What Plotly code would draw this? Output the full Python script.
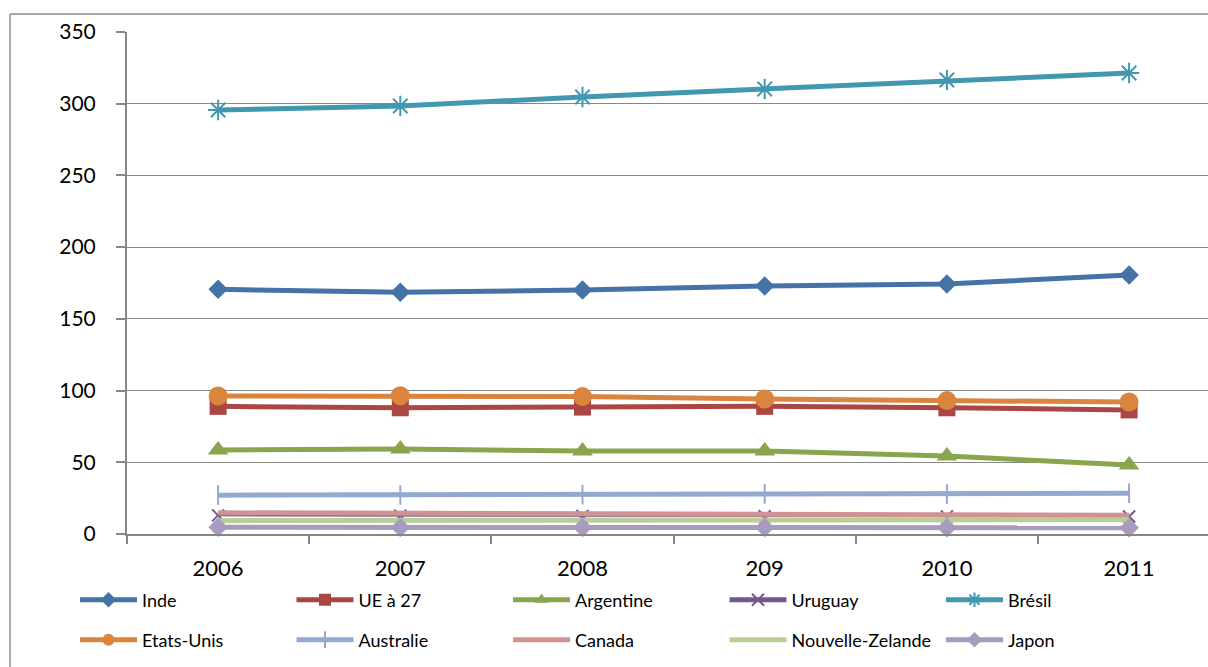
import plotly.graph_objects as go

# Years on the category axis ("209" is the label as printed in the source table)
years = ["2006", "2007", "2008", "209", "2010", "2011"]

inde = [170.6, 168.5, 170.1, 172.9, 174.3, 180.6]
ue27 = [89.0, 88.0, 88.5, 89.0, 88.0, 86.5]
argentine = [58.6, 59.3, 57.9, 57.9, 54.4, 48.1]
uruguay = [13.0, 12.8, 12.6, 12.4, 12.3, 12.2]
bresil = [295.6, 298.4, 304.7, 310.3, 316.5, 321.4]
etats_unis = [96.2, 96.4, 95.8, 94.1, 93.0, 92.0]
australie = [27.1, 27.2, 27.5, 27.9, 27.8, 28.4]
canada = [14.8, 14.5, 14.0, 13.7, 13.4, 13.0]
nouvelle_zelande = [9.3, 9.3, 9.3, 9.4, 9.6, 10.0]
japon = [4.7, 4.6, 4.5, 4.5, 4.4, 4.3]

series = [
    # name, values, colour, marker symbol, marker size, legend group
    ("Inde", inde, "#4572A7", "diamond", 15, "legend"),
    ("UE à 27", ue27, "#AA4643", "square", 17, "legend"),
    ("Argentine", argentine, "#89A54E", "triangle-up", 18, "legend"),
    ("Uruguay", uruguay, "#71588F", "x-thin-open", 12, "legend"),
    ("Brésil", bresil, "#4198AF", "asterisk-open", 17, "legend"),
    ("Etats-Unis", etats_unis, "#DB843D", "circle", 19, "legend2"),
    ("Australie", australie, "#93A9CF", "line-ns-open", 14, "legend2"),
    ("Canada", canada, "#D19392", None, 0, "legend2"),
    ("Nouvelle-Zelande", nouvelle_zelande, "#B9CD96", None, 0, "legend2"),
    ("Japon", japon, "#A99BBD", "diamond", 15, "legend2"),
]

FONT = "Lato"
GRID = "#868686"

fig = go.Figure()
for name, vals, color, symbol, size, leg in series:
    if symbol is None:
        mode = "lines"
        marker = None
    else:
        mode = "lines+markers"
        open_sym = symbol.endswith("-open")
        marker = dict(symbol=symbol, size=size, color=color,
                      line=dict(color=color, width=2 if open_sym else 0))
    fig.add_trace(go.Scatter(
        x=years, y=vals, name=name, mode=mode, legend=leg,
        line=dict(color=color, width=5 if name != "Uruguay" else 2),
        marker=marker, cliponaxis=False,
    ))

W, H = 1208, 667
L, T, B = 127, 32, 133
pw, ph = W - L, H - T - B

def px_x(x):
    return (x - L) / pw

def px_y(y):
    return (H - B - y) / ph

legend_common = dict(
    orientation="h", xref="container", yref="container",
    xanchor="left", yanchor="middle",
    font=dict(family=FONT, size=18, color="black"),
    itemwidth=57, entrywidth=144.5, entrywidthmode="pixels",
    itemsizing="constant", bgcolor="rgba(0,0,0,0)", borderwidth=0,
    itemclick=False, itemdoubleclick=False,
)

fig.update_layout(
    width=W, height=H,
    margin=dict(l=L, r=0, t=T, b=B, pad=0),
    paper_bgcolor="white", plot_bgcolor="white",
    font=dict(family=FONT, color="black"),
    showlegend=True,
    legend=dict(x=75 / W, y=1 - 600 / H, **legend_common),
    legend2=dict(x=75 / W, y=1 - 640 / H, **legend_common),
    xaxis=dict(
        type="category", range=[-0.5, -0.5 + pw / 182.2],
        showgrid=False, showline=True, linecolor=GRID, linewidth=2,
        ticks="outside", tickson="boundaries", ticklen=8, tickwidth=1.5,
        tickcolor=GRID, tickfont=dict(family=FONT, size=22, color="black"),
        ticklabelstandoff=14, zeroline=False,
    ),
    yaxis=dict(
        range=[0, 350], tickvals=[0, 50, 100, 150, 200, 250, 300, 350],
        showgrid=True, gridcolor=GRID, gridwidth=1.3,
        showline=True, linecolor=GRID, linewidth=2,
        ticks="outside", ticklen=9, tickwidth=1.5, tickcolor=GRID,
        tickfont=dict(family=FONT, size=21, color="black"),
        ticklabelstandoff=16, zeroline=False,
    ),
    shapes=[
        # outer chart frame (left and top edges)
        dict(type="line", xref="paper", yref="paper",
             x0=px_x(10), x1=px_x(10), y0=px_y(14), y1=px_y(H + 5),
             line=dict(color="#8c8c8c", width=1.5), layer="above"),
        dict(type="line", xref="paper", yref="paper",
             x0=px_x(10), x1=px_x(W + 5), y0=px_y(14), y1=px_y(14),
             line=dict(color="#8c8c8c", width=1.5), layer="above"),
    ],
)

fig.write_html("out.html")
